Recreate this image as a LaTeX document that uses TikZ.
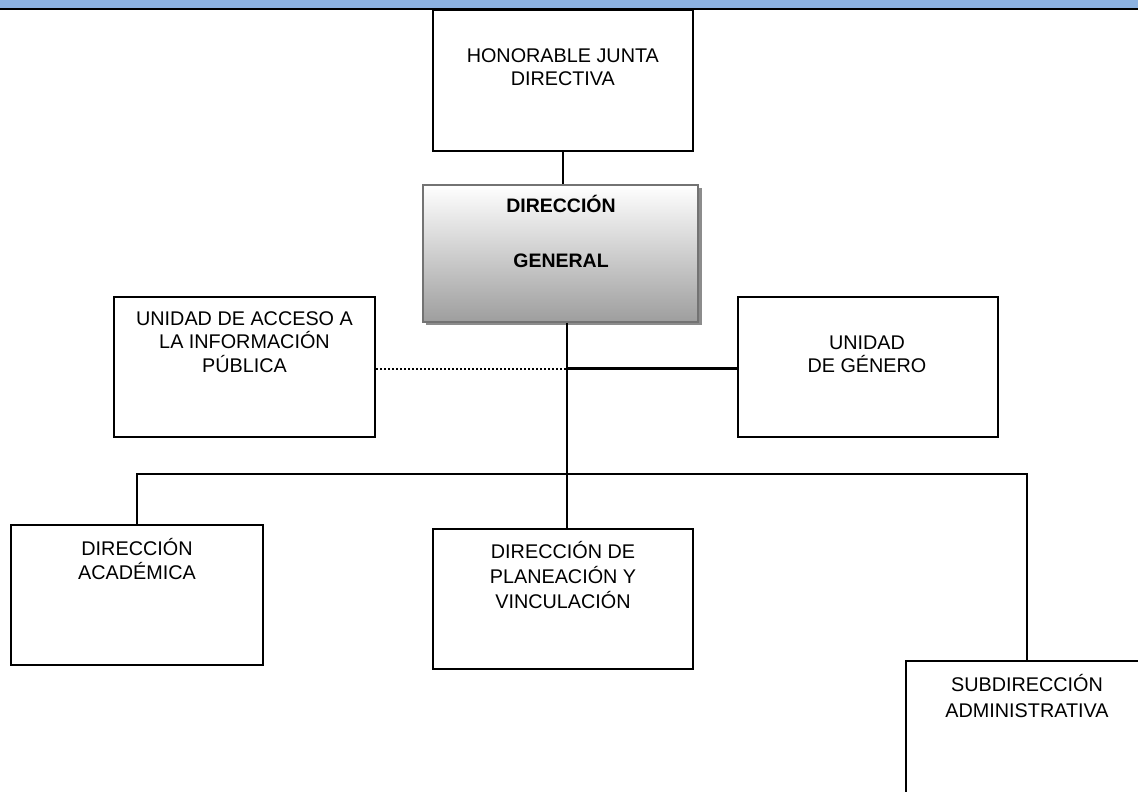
\documentclass[tikz,border=0pt]{standalone}
\usepackage{fontspec}
\setmainfont{Liberation Sans}
\usetikzlibrary{calc}
\definecolor{topblue}{RGB}{141,179,226}
\definecolor{shadowgray}{RGB}{140,140,140}
\definecolor{dgborder}{RGB}{115,115,115}
\begin{document}
\begin{tikzpicture}[x=1pt,y=-1pt,
  orgbox/.style={draw=black, line width=2pt, rectangle, inner sep=0pt},
  lbl/.style={anchor=north, inner sep=0pt, align=center, text=black,
              font=\fontsize{19.8}{#1}\selectfont},
  conn/.style={line width=1.8pt},
]
\useasboundingbox (0,0) rectangle (1138,792);
\clip (0,0) rectangle (1138,792);
% top band
\fill[topblue] (0,0) rectangle (1138,8);
\fill[black] (0,8) rectangle (1138,10.5);

% boxes
\node[orgbox, minimum width=260.3pt, minimum height=140.7pt] (hon) at (562.85,80.35) {};
\node[lbl=22.5] (hont) at (562.85,42.7) {\rule{0pt}{20pt}HONORABLE JUNTA\\DIRECTIVA};

\fill[shadowgray] (426,188) rectangle (701.5,325);
\node[draw=dgborder, line width=2.4pt, rectangle, inner sep=0pt,
      top color=white, bottom color=black!38,
      minimum width=275pt, minimum height=136.7pt] (dg) at (560.5,253.35) {};
\node[lbl=55.4, font=\bfseries\fontsize{19.5}{55.4}\selectfont] (dgt) at (561,192.3) {\rule{0pt}{20pt}DIRECCIÓN\\GENERAL};

\node[orgbox, minimum width=261pt, minimum height=140pt] (uai) at (244.5,366.7) {};
\node[lbl=23.5] (uait) at (244.5,305) {\rule{0pt}{20pt}UNIDAD DE ACCESO A\\LA INFORMACIÓN\\PÚBLICA};

\node[orgbox, minimum width=259.7pt, minimum height=140pt] (ug) at (868.15,366.7) {};
\node[lbl=23] (ugt) at (867,329) {\rule{0pt}{20pt}UNIDAD\\DE GÉNERO};

\node[orgbox, minimum width=252pt, minimum height=140pt] (da) at (137,595) {};
\node[lbl=24.3] (dat) at (137,535) {\rule{0pt}{20pt}DIRECCIÓN\\ACADÉMICA};

\node[orgbox, minimum width=260.6pt, minimum height=140pt] (dp) at (563,599) {};
\node[lbl=25] (dpt) at (563,538) {\rule{0pt}{20pt}DIRECCIÓN DE\\PLANEACIÓN Y\\VINCULACIÓN};

\node[orgbox, minimum width=242pt, minimum height=139.3pt] (sa) at (1027,730.35) {};
\node[lbl=25.6] (sat) at (1027,671.7) {\rule{0pt}{20pt}SUBDIRECCIÓN\\ADMINISTRATIVA};

% junctions
\coordinate (jv) at (567,474);
\coordinate (jh) at (567,368.5);

% connectors
\draw[conn] (hon.south) -- (hon.south |- dg.north);
\draw[conn] (dg.south -| jv) -- (dp.north -| jv);
\draw[line width=2pt, dash pattern=on 1.6pt off 2.4pt] (uai.east |- jh) -- (jh);
\draw[line width=3pt] (jh) -- (ug.west |- jh);
\draw[conn] (da.north) |- (jv) -| (sa.north);
\end{tikzpicture}
\end{document}
